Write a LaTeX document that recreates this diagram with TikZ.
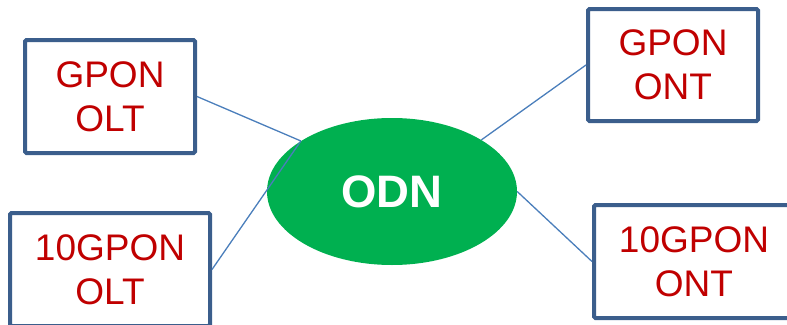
\documentclass[tikz,border=0pt]{standalone}
\usepackage{fontspec}
\setmainfont{Liberation Sans}
\usepackage{xcolor}
\definecolor{boxblue}{HTML}{3B5E8C}
\definecolor{linkblue}{HTML}{4A7EBB}
\definecolor{odngreen}{HTML}{00B050}
\definecolor{textred}{HTML}{C00000}
\usetikzlibrary{shapes.geometric}

\begin{document}
\begin{tikzpicture}[x=1pt,y=-1pt,
    unit/.style={draw=boxblue,line width=4pt,rounded corners=1.5pt,fill=white,
        minimum height=113pt,inner sep=0pt,align=center,text=textred,
        font=\fontsize{37}{44}\selectfont},
    link/.style={draw=linkblue,line width=1.3pt}]
            \useasboundingbox (0,0) rectangle (787,324);

            \node (odn) at (392,191.5) [ellipse,fill=odngreen,minimum width=250pt,minimum height=147pt,inner sep=0pt,text=white,font=\fontsize{45.5}{54}\selectfont\bfseries] {ODN};

            \node (olt) at (110,96.5) [unit,minimum width=170pt] {GPON\\OLT};
            \node (xolt) at (110,269.5) [unit,minimum width=200pt] {10GPON\\OLT};
            \node (ont) at (673,65) [unit,minimum width=170pt,minimum height=112pt] {GPON\\ONT};
            \node (xont) at (694,261.5) [unit,minimum width=200pt] {10GPON\\ONT};

            \draw[link] (olt.east) -- (odn.151);
            \draw[link] (xolt.east) -- (odn.151);
            \draw[link] (odn.30) -- (ont.west);
            \draw[link] (odn.east) -- (xont.west);

\end{tikzpicture}
\end{document}
